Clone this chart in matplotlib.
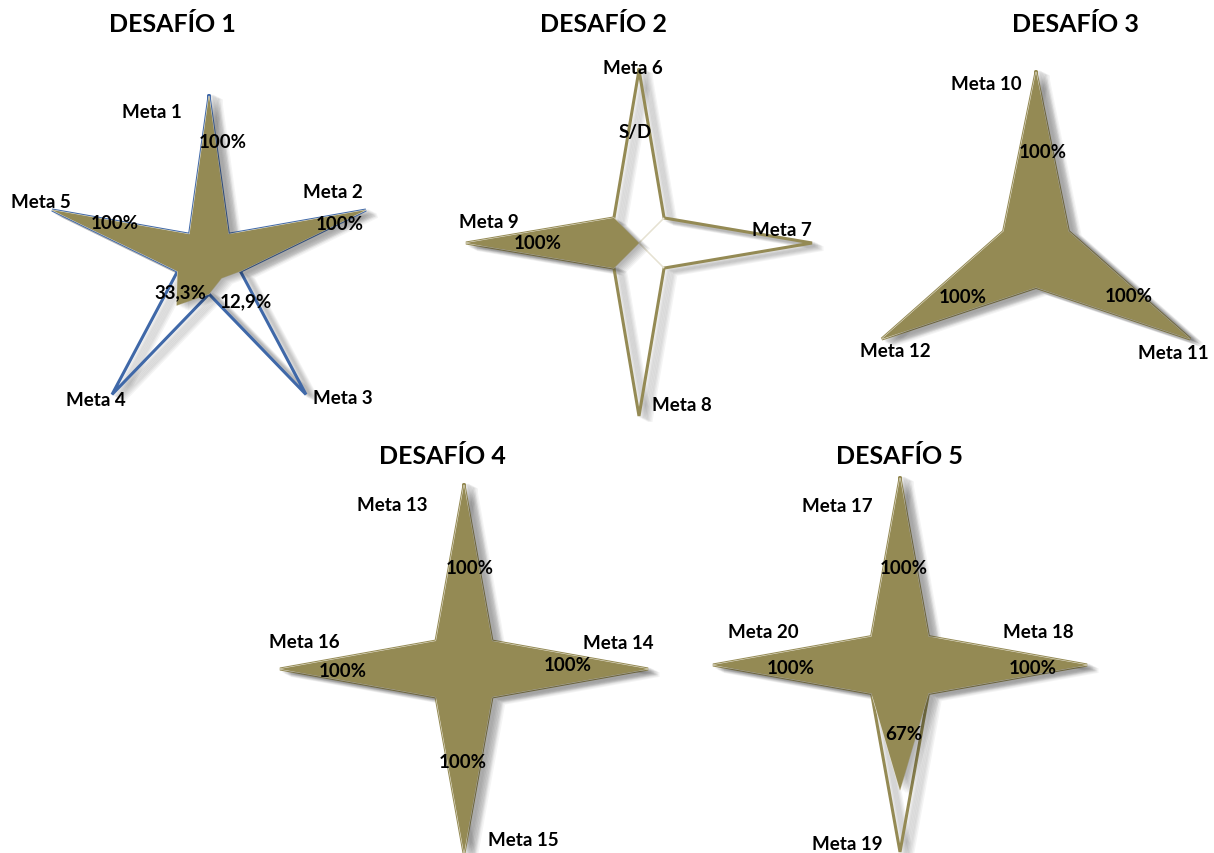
import numpy as np
import matplotlib
matplotlib.use("Agg")
import matplotlib.pyplot as plt
import matplotlib.patheffects as pe
from matplotlib.patches import Polygon

plt.rcParams['font.family'] = ['Lato', 'DejaVu Sans']

# data
titles = ['DESAFÍO 1', 'DESAFÍO 2', 'DESAFÍO 3', 'DESAFÍO 4', 'DESAFÍO 5']
metas = [
    ['Meta 1', 'Meta 2', 'Meta 3', 'Meta 4', 'Meta 5'],
    ['Meta 6', 'Meta 7', 'Meta 8', 'Meta 9'],
    ['Meta 10', 'Meta 11', 'Meta 12'],
    ['Meta 13', 'Meta 14', 'Meta 15', 'Meta 16'],
    ['Meta 17', 'Meta 18', 'Meta 19', 'Meta 20'],
]
values = [
    [1.0, 1.0, 0.129, 0.333, 1.0],
    [0.0, 0.0, 0.0, 1.0],
    [1.0, 1.0, 1.0],
    [1.0, 1.0, 1.0, 1.0],
    [1.0, 1.0, 0.67, 1.0],
]
value_text = [
    ['100%', '100%', '12,9%', '33,3%', '100%'],
    ['S/D', '', '', '100%'],
    ['100%', '100%', '100%'],
    ['100%', '100%', '100%', '100%'],
    ['100%', '100%', '67%', '100%'],
]
inner = [0.2, 0.205, 0.21, 0.215, 0.215]  # value of the points between metas

# layout (pixels): chart centre, radius, title position
centers = [(209, 262), (639, 244), (1036, 251), (464, 670), (900, 666)]
radii = [165, 173, 178, 184, 187]
title_pos = [(172, 24), (603, 24), (1075, 24), (442, 457), (900, 457)]
edge_colors = ['#3F68A8', '#948A54', '#948A54', '#948A54', '#948A54']
# label positions as pixel offsets from the centre
meta_pos = [
    [(-57, -149), (124, -69), (134, 137), (-113, 139), (-168, -59)],
    [(-6, -175), (143, -13), (43, 162), (-150, -21)],
    [(-50, -166), (137, 103), (-141, 101)],
    [(-72, -164), (154, -26), (59, 171), (-160, -27)],
    [(-63, -160), (138, -33), (-53, 179), (-137, -33)],
]
val_pos = [
    [(14, -119), (131, -37), (37, 40), (-29, 31), (-94, -38)],
    [(-4, -111), (0, 0), (0, 0), (-101, 0)],
    [(7, -98), (93, 46), (-73, 47)],
    [(6, -101), (104, -4), (-1, 93), (-121, 2)],
    [(4, -97), (133, 3), (4, 69), (-109, 3)],
]

W, H = 1214, 854
FILL = '#948A54'
fig = plt.figure(figsize=(W / 100, H / 100), dpi=100)

shadow_fx = [pe.SimplePatchShadow(offset=(o, -o * 0.5), shadow_rgbFace='black', alpha=0.045)
             for o in (8, 7, 6, 5, 4, 3, 2)] + [pe.Normal()]
line_fx = [pe.SimpleLineShadow(offset=(o, -o * 0.5), shadow_color='black', alpha=0.045, linewidth=3.5)
           for o in (8, 7, 6, 5, 4, 3, 2)] + [pe.Normal()]

for i in range(5):
    cx, cy = centers[i]
    R = radii[i]
    s = 1.6 * R
    ax = fig.add_axes([(cx - s) / W, 1 - (cy + s) / H, 2 * s / W, 2 * s / H])
    ax.set_xlim(-1.6, 1.6)
    ax.set_ylim(-1.6, 1.6)
    ax.set_aspect('equal')
    ax.axis('off')
    ax.patch.set_alpha(0)

    n = len(metas[i])
    ang = np.deg2rad(90 - 360 * np.arange(2 * n) / (2 * n))
    fill_r = np.empty(2 * n)
    fill_r[0::2] = values[i]
    fill_r[1::2] = inner[i]
    out_r = np.empty(2 * n)
    out_r[0::2] = 1.0
    out_r[1::2] = inner[i]

    # outline (full target)
    ox = np.append(out_r * np.cos(ang), out_r[0] * np.cos(ang[0]))
    oy = np.append(out_r * np.sin(ang), out_r[0] * np.sin(ang[0]))
    ax.plot(ox, oy, color=edge_colors[i], lw=2.2, solid_joinstyle='miter',
            path_effects=line_fx, zorder=2)

    # achieved
    pts = np.column_stack([fill_r * np.cos(ang), fill_r * np.sin(ang)])
    ax.add_patch(Polygon(pts, closed=True, facecolor='none', edgecolor='#E6E2D2',
                         lw=0.8, zorder=2.5))
    ax.add_patch(Polygon(pts, closed=True, facecolor=FILL, edgecolor='none',
                         zorder=3, path_effects=shadow_fx))

    for k in range(n):
        dx, dy = meta_pos[i][k]
        ax.text(dx / R, -dy / R, metas[i][k], ha='center', va='center',
                fontsize=13.5, fontweight='bold', color='black', zorder=5)
        if value_text[i][k]:
            dx, dy = val_pos[i][k]
            ax.text(dx / R, -dy / R, value_text[i][k], ha='center', va='center',
                    fontsize=13.5, fontweight='bold', color='black', zorder=5)

    tx, ty = title_pos[i]
    fig.text(tx / W, 1 - ty / H, titles[i], ha='center', va='center',
             fontsize=18, fontweight='bold', color='black')

fig.savefig('out.png', dpi=100, facecolor='white')
